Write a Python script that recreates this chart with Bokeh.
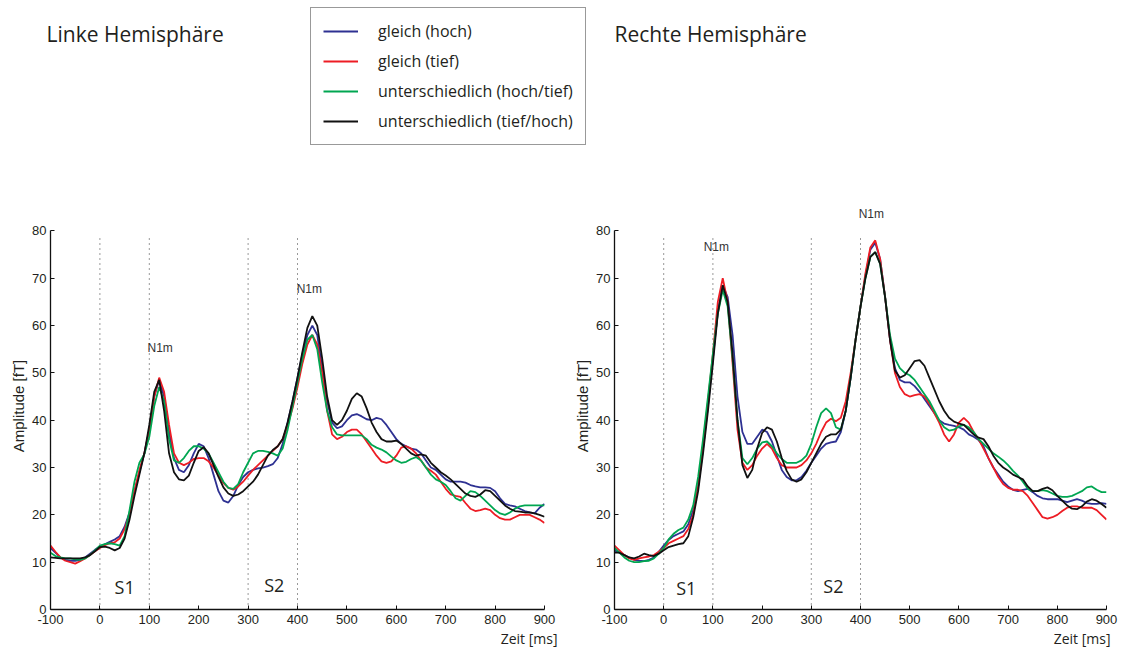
from bokeh.plotting import figure
from bokeh.models import Range1d, Label, Legend, LegendItem, FixedTicker, Title
from bokeh.layouts import column, row
from bokeh.embed import file_html
from bokeh.resources import INLINE

# ---------------- data ----------------
time_ms = list(range(-100, 901, 10))

series_labels = ["gleich (hoch)", "gleich (tief)",
                 "unterschiedlich (hoch/tief)", "unterschiedlich (tief/hoch)"]
series_colors = ["#2e3192", "#ed1c24", "#00a651", "#111111"]

x_ticks = [-100, 0, 100, 200, 300, 400, 500, 600, 700, 800, 900]
y_ticks = [0, 10, 20, 30, 40, 50, 60, 70, 80]
stim_marks = [0, 100, 300, 400]

# Left hemisphere
left_blue = [13.0, 12.0, 11.0, 10.5, 10.3, 10.3, 10.5, 11.0, 11.8, 12.6,
             13.3, 13.8, 14.3, 14.8, 15.5, 17.5, 20.5, 25.0, 29.0, 33.0,
             38.0, 45.0, 48.5, 45.0, 37.5, 32.0, 29.5, 29.0, 30.5, 33.0,
             35.0, 34.5, 32.0, 28.5, 25.0, 23.0, 22.6, 24.0, 26.3, 28.0,
             29.0, 29.5, 29.8, 30.0, 30.3, 30.7, 32.0, 35.0, 39.5, 44.0,
             49.0, 54.0, 58.0, 60.0, 58.0, 51.0, 44.0, 39.5, 38.3, 38.7,
             40.0, 41.0, 41.3, 40.8, 40.2, 40.0, 40.5, 40.2, 39.0, 37.5,
             36.0, 35.0, 34.5, 34.0, 33.8, 33.0, 31.5, 30.0, 29.5, 28.5,
             27.5, 27.0, 27.0, 27.0, 26.8, 26.3, 26.0, 25.8, 25.8, 25.7,
             25.0, 23.5, 22.3, 22.0, 21.8, 21.3, 20.8, 20.5, 20.3, 21.5,
             22.3]
left_red = [13.5, 12.2, 11.0, 10.3, 10.0, 9.7, 10.2, 10.8, 11.5, 12.3,
            13.0, 13.6, 14.0, 14.2, 15.0, 17.0, 20.0, 25.0, 29.5, 33.0,
            38.0, 45.0, 49.0, 46.0, 39.0, 33.0, 31.0, 30.5, 31.0, 31.8,
            32.0, 32.0, 31.3, 30.0, 28.3, 26.7, 25.7, 25.3, 26.0, 27.0,
            28.3, 29.5, 30.5, 31.5, 32.5, 33.5, 34.5, 36.0, 39.0, 42.5,
            47.0, 52.0, 56.0, 58.0, 56.0, 50.0, 42.0, 37.0, 36.0, 36.5,
            37.5, 38.0, 38.0, 37.0, 35.5, 34.0, 32.5, 31.3, 31.0, 31.3,
            32.5, 34.2, 34.5, 34.0, 33.0, 31.5, 30.0, 29.3, 28.5, 27.0,
            25.5, 24.3, 24.0, 23.8, 22.5, 21.3, 20.8, 21.0, 21.3, 21.0,
            20.0, 19.3, 19.0, 19.0, 19.5, 20.0, 20.0, 20.0, 19.5, 19.0,
            18.3]
left_green = [12.0, 11.3, 11.0, 10.8, 10.8, 10.6, 10.5, 10.8, 11.5, 12.5,
              13.5, 13.8, 14.0, 13.8, 13.5, 15.5, 21.0, 27.0, 31.0, 32.8,
              36.5, 43.0, 47.0, 44.0, 36.0, 31.5, 31.0, 32.0, 33.5, 34.5,
              34.5, 34.0, 33.0, 31.0, 29.0, 27.0, 25.7, 25.5, 26.5, 29.0,
              31.0, 33.0, 33.5, 33.5, 33.3, 33.0, 32.5, 34.0, 38.0, 43.0,
              48.0, 53.0, 57.0, 58.0, 55.0, 48.0, 42.0, 38.5, 37.0, 36.8,
              36.8, 36.8, 36.8, 36.8, 36.0, 34.8, 34.2, 33.8, 33.2, 32.3,
              31.5, 31.0, 31.2, 31.8, 32.2, 31.5, 30.0, 28.5, 27.5, 27.0,
              26.3, 25.0, 23.5, 23.0, 24.0, 25.0, 24.8, 24.0, 23.0, 22.0,
              21.0, 20.3, 20.0, 20.5, 21.3, 21.8, 22.0, 22.0, 22.0, 22.0,
              22.0]
left_black = [11.0, 10.9, 10.8, 10.8, 10.8, 10.8, 10.8, 11.0, 11.5, 12.3,
              13.2, 13.3, 13.0, 12.5, 13.0, 15.0, 19.0, 24.0, 28.5, 33.0,
              39.0, 46.0, 48.5, 42.0, 33.0, 29.0, 27.5, 27.3, 28.3, 31.0,
              33.5, 34.3, 33.0, 30.5, 28.0, 25.8, 24.5, 24.0, 24.3, 25.0,
              26.0, 27.0, 28.5, 30.5, 32.5, 33.7, 34.5, 36.0, 39.5, 44.0,
              49.0, 54.5, 59.5, 62.0, 60.0, 53.0, 45.0, 40.0, 39.0, 40.0,
              42.0, 44.5, 45.7, 45.0, 42.5, 39.5, 37.5, 36.0, 35.5, 35.5,
              35.7, 35.0, 34.0, 33.0, 32.5, 32.8, 32.5, 31.0, 30.0, 29.0,
              28.3, 27.5, 26.5, 25.5, 24.5, 24.0, 23.8, 24.3, 25.2, 25.0,
              24.0, 23.0, 22.0, 21.3, 20.8, 20.7, 20.5, 20.5, 20.3, 20.0,
              19.6]

# Right hemisphere
right_blue = [12.5, 12.0, 11.5, 11.0, 10.5, 10.3, 10.2, 10.5, 11.0, 12.2,
              13.5, 14.7, 15.5, 16.0, 16.5, 18.0, 21.0, 26.0, 34.0, 43.0,
              53.0, 63.0, 68.5, 66.0, 58.0, 45.0, 37.5, 35.0, 35.0, 36.5,
              38.0, 37.5, 35.5, 32.5, 29.5, 28.0, 27.3, 27.3, 28.0, 29.3,
              31.0, 32.5, 34.0, 35.0, 35.3, 35.5, 37.5, 42.0, 49.0, 57.0,
              64.0, 70.5, 76.0, 77.5, 74.0, 66.0, 57.0, 51.0, 48.5, 48.0,
              48.0, 47.2, 46.0, 44.5, 43.0, 41.5, 40.0, 39.3, 39.0, 38.8,
              38.5, 38.0, 37.0, 36.5, 35.8, 34.5, 32.0, 30.0, 28.5, 27.0,
              26.0, 25.3, 25.0, 25.3, 25.5, 24.8, 24.0, 23.5, 23.3, 23.3,
              23.3, 23.0, 22.7, 23.0, 23.3, 23.0, 22.5, 22.3, 22.3, 22.5,
              22.3]
right_red = [13.5, 12.5, 11.5, 10.8, 10.5, 10.8, 11.0, 11.2, 11.5, 12.2,
             13.0, 14.0, 14.5, 15.0, 15.5, 17.0, 20.0, 26.0, 35.0, 44.0,
             54.0, 65.0, 70.0, 65.0, 52.0, 38.0, 31.0, 29.5, 30.5, 32.5,
             34.0, 35.0, 34.0, 32.0, 30.5, 30.0, 30.0, 30.0, 30.5, 31.5,
             33.0, 35.0, 37.5, 39.5, 40.3, 39.8, 40.5, 44.0, 50.0, 57.0,
             64.0, 71.0, 76.5, 78.0, 74.0, 66.0, 57.0, 50.0, 47.0, 45.5,
             45.0, 45.3, 45.5, 45.0, 43.5, 41.5, 39.5, 37.0, 35.5, 37.0,
             39.5, 40.5, 39.5, 37.5, 36.0, 34.0, 32.0, 30.0, 28.0, 26.5,
             25.7, 25.3, 25.3, 25.0, 24.0, 22.5, 21.0, 19.5, 19.2, 19.5,
             20.0, 20.8, 21.5, 21.8, 21.8, 21.5, 21.5, 21.5, 21.0, 20.0,
             19.0]
right_green = [13.0, 12.0, 11.0, 10.3, 10.0, 10.0, 10.2, 10.3, 10.8, 11.8,
               13.0, 14.8, 16.0, 16.8, 17.3, 19.0, 22.0, 28.0, 36.0, 45.0,
               54.0, 62.5, 67.5, 64.0, 53.0, 40.0, 32.0, 30.7, 32.0, 34.0,
               35.3, 35.5, 34.5, 33.0, 31.8, 31.0, 31.0, 31.0, 31.5, 32.5,
               35.0, 38.5, 41.5, 42.5, 41.5, 38.5, 38.0, 42.0, 49.0, 57.0,
               64.0, 70.0, 74.5, 75.5, 73.0, 66.0, 58.0, 53.0, 51.0, 50.0,
               49.5, 48.5, 47.0, 45.5, 44.0, 42.0, 40.0, 38.5, 37.8, 38.0,
               38.7, 39.0, 38.5, 37.5, 36.0, 35.0, 34.0, 33.0, 32.3, 31.5,
               30.5, 29.3, 28.3, 27.0, 25.5, 25.0, 25.0, 25.2, 25.0, 24.5,
               24.0, 23.8, 23.8, 24.0, 24.5, 25.0, 25.8, 26.0, 25.3, 24.8,
               24.8]
right_black = [12.0, 12.0, 11.5, 11.0, 10.8, 11.2, 11.8, 11.5, 11.3, 11.8,
               12.5, 13.2, 13.5, 13.8, 14.0, 15.5, 19.5, 25.0, 33.0, 42.0,
               52.0, 62.5, 68.5, 65.0, 54.0, 40.0, 30.5, 27.8, 29.5, 34.0,
               37.3, 38.5, 38.0, 35.5, 32.0, 29.3, 27.5, 27.0, 27.5, 29.0,
               31.0, 33.0, 35.0, 36.5, 37.0, 37.0, 38.0, 42.0, 49.0, 57.0,
               64.0, 70.0, 74.5, 75.5, 73.0, 66.0, 57.0, 50.5, 49.0, 49.5,
               51.0, 52.5, 52.7, 51.5, 49.0, 46.5, 44.0, 42.0, 40.5, 39.7,
               39.3, 39.0, 38.0, 37.0, 36.3, 36.0, 34.5, 32.5, 31.0, 30.0,
               29.3, 28.5, 28.0, 27.5, 26.0, 25.0, 25.0, 25.5, 25.8, 25.2,
               24.0, 23.0, 22.0, 21.3, 21.2, 21.8, 22.8, 23.3, 23.0, 22.3,
               21.5]

left_series = [left_blue, left_red, left_green, left_black]
right_series = [right_blue, right_red, right_green, right_black]

# annotation positions (data units)
left_n1m = [(122, 55.2), (424, 67.8)]
right_n1m = [(107, 76.6), (422, 83.6)]
left_stim_labels = [("S1", 50, 4.8), ("S2", 353, 5.2)]
right_stim_labels = [("S1", 46, 4.6), ("S2", 345, 5.0)]

TXT = "#231f20"


def make_panel(series, n1m, stims, width, borders, zeit_offset):
    bl, br, bt, bb = borders
    p = figure(width=width, height=471, x_range=Range1d(-100, 900),
               y_range=Range1d(0, 86), toolbar_location=None,
               output_backend="svg", min_border_left=bl, min_border_right=br,
               min_border_top=bt, min_border_bottom=bb,
               outline_line_color=None)
    p.grid.visible = False
    p.background_fill_color = "white"
    p.border_fill_color = "white"

    p.segment(x0=stim_marks, y0=[0] * len(stim_marks), x1=stim_marks,
              y1=[78.7] * len(stim_marks), line_color="#333333",
              line_dash="1 4", line_width=1)

    for vals, col in zip(series, series_colors):
        p.line(time_ms, vals, line_color=col, line_width=1.8)

    for ax in (p.xaxis[0], p.yaxis[0]):
        ax.major_tick_in = 4
        ax.major_tick_out = 0
        ax.minor_tick_line_color = None
        ax.axis_line_color = "#111111"
        ax.axis_line_width = 1.3
        ax.major_tick_line_color = "#111111"
        ax.major_label_text_font = "Liberation Sans"
        ax.major_label_text_font_size = "13px"
        ax.major_label_text_color = TXT
        ax.major_label_standoff = 5
    p.xaxis.ticker = FixedTicker(ticks=x_ticks)
    p.xaxis.major_label_overrides = {-100: "-100"}
    p.yaxis.ticker = FixedTicker(ticks=y_ticks)
    p.yaxis.bounds = (0, 80)
    p.yaxis.major_label_standoff = 4

    p.add_layout(Title(text="Amplitude [fT]", align="center", offset=-15,
                       text_font="Liberation Sans", text_font_size="15px",
                       text_font_style="normal", text_color=TXT,
                       standoff=6), "left")
    p.add_layout(Title(text="Zeit [ms]", align="right", offset=zeit_offset,
                       text_font="Open Sans", text_font_size="14px",
                       text_font_style="normal", text_color=TXT,
                       standoff=0), "below")

    for (x, y) in n1m:
        p.add_layout(Label(x=x, y=y, text="N1m", text_align="center",
                           text_baseline="middle", text_font="Liberation Sans",
                           text_font_size="12px", text_color="#333333"))
    for (t, x, y) in stims:
        p.add_layout(Label(x=x, y=y, text=t, text_align="center",
                           text_baseline="middle", text_font="Open Sans",
                           text_font_size="18px", text_color=TXT))
    return p


left = make_panel(left_series, left_n1m, left_stim_labels, 565,
                  (50, 21, 22, 42), -13)
right = make_panel(right_series, right_n1m, right_stim_labels, 557,
                   (49, 16, 22, 42), -4)

# ---------------- top strip: titles + legend ----------------
top = figure(width=1122, height=180, x_range=Range1d(0, 1122),
             y_range=Range1d(180, 0), toolbar_location=None,
             output_backend="svg", min_border=0, x_axis_location=None,
             y_axis_location=None, outline_line_color=None)
top.grid.visible = False

top.add_layout(Label(x=46, y=33, text="Linke Hemisphäre", text_baseline="middle",
                     text_font="Open Sans", text_font_size="21px", text_color=TXT))
top.add_layout(Label(x=614, y=33, text="Rechte Hemisphäre", text_baseline="middle",
                     text_font="Open Sans", text_font_size="21px", text_color=TXT))

items = []
for lab, col in zip(series_labels, series_colors):
    r = top.line(x=[float("nan")], y=[float("nan")], line_color=col, line_width=1.8)
    items.append(LegendItem(label=lab, renderers=[r]))
legend = Legend(items=items, location=(310, 35), orientation="vertical",
                border_line_color="#333333", border_line_width=1,
                background_fill_alpha=1.0, label_text_font="Open Sans",
                label_text_font_size="16px", label_text_color=TXT,
                glyph_width=35, glyph_height=20, label_height=20,
                label_standoff=20, padding=12, spacing=8, margin=0)
top.add_layout(legend)

layout = column(top, row(left, right, spacing=0), spacing=0)
open("out.html", "w").write(file_html(layout, INLINE))
